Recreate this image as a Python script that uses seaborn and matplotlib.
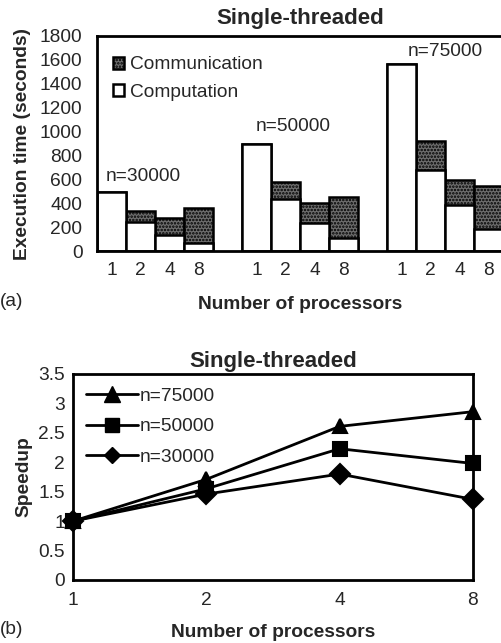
import numpy as np
import pandas as pd
import matplotlib
matplotlib.use("Agg")
import matplotlib.pyplot as plt
import matplotlib.patches as mpatches
from matplotlib.lines import Line2D
from matplotlib.ticker import FixedLocator, FuncFormatter
import seaborn as sns

# ---------------- data ----------------
problem_sizes = ["n=30000", "n=50000", "n=75000"]
processors = ["1", "2", "4", "8"]
computation = {
    "n=30000": [490, 245, 130, 65],
    "n=50000": [900, 435, 237, 106],
    "n=75000": [1562, 678, 385, 181],
}
communication = {
    "n=30000": [0, 90, 143, 292],
    "n=50000": [0, 145, 168, 346],
    "n=75000": [0, 243, 209, 366],
}
speedup = {
    "n=75000": [1.0, 1.71, 2.61, 2.86],
    "n=50000": [1.0, 1.55, 2.23, 1.98],
    "n=30000": [1.0, 1.46, 1.80, 1.37],
}
time_ticks = [0, 200, 400, 600, 800, 1000, 1200, 1400, 1600, 1800]
speed_ticks = [0, 0.5, 1, 1.5, 2, 2.5, 3, 3.5]

# ---------------- style ----------------
sns.set_style("white")
plt.rcParams["font.family"] = ["Liberation Sans", "DejaVu Sans"]
plt.rcParams["hatch.linewidth"] = 1.2
FS = 13.8
TFS = 16
COMM_FACE = "#6e6e6e"
COMM_HATCH = "....."

fig = plt.figure(figsize=(5.01, 6.43), dpi=100)
W, H = 501, 643

def axrect(l, t, r, b):
    return [l / W, (H - b) / H, (r - l) / W, (b - t) / H]

# ---------------- (a) stacked bars ----------------
ax1 = fig.add_axes(axrect(97, 36, 503, 251))
rows = []
order = []
for gi, n in enumerate(problem_sizes):
    for pi, p in enumerate(processors):
        key = f"{n}|{p}"
        order.append(key)
        rows.append({"key": key, "comp": computation[n][pi],
                     "total": computation[n][pi] + communication[n][pi]})
    if gi < len(problem_sizes) - 1:
        order.append(" " * (gi + 1))
df = pd.DataFrame(rows)

sns.barplot(data=df, x="key", y="total", order=order, color=COMM_FACE,
            edgecolor="black", linewidth=1.8, width=1.0, hatch=COMM_HATCH,
            errorbar=None, ax=ax1, saturation=1)
sns.barplot(data=df, x="key", y="comp", order=order, color="white",
            edgecolor="black", linewidth=1.8, width=1.0,
            errorbar=None, ax=ax1, saturation=1)

ax1.set_xlim(-0.5, len(order) - 0.5)
ax1.set_ylim(0, 1800)
ax1.set_yticks(time_ticks)
ax1.set_yticklabels([str(t) for t in time_ticks], fontsize=FS)
ax1.set_xticks(range(len(order)))
ax1.set_xticklabels([k.split("|")[1] if "|" in k else "" for k in order], fontsize=FS)
ax1.xaxis.set_minor_locator(FixedLocator(np.arange(-0.5, len(order), 1.0)))
ax1.tick_params(axis="x", which="major", length=0, pad=8)
ax1.tick_params(axis="x", which="minor", length=5, width=1.5, color="black", direction="out")
ax1.tick_params(axis="y", length=5, width=1.5, color="black", direction="out", pad=5.5)
for s in ["left", "top", "bottom", "right"]:
    ax1.spines[s].set_color("black")
    ax1.spines[s].set_linewidth(2)
ax1.set_xlabel("Number of processors", fontsize=FS, fontweight="bold", labelpad=12)
ax1.set_ylabel("Execution time (seconds)", fontsize=FS, fontweight="bold", labelpad=6)
ax1.set_title("Single-threaded", fontsize=TFS, fontweight="bold", pad=8.5)

label_pos = [(1.1, 622), (6.26, 1041), (11.5, 1668)]
for n, (lx, ly) in zip(problem_sizes, label_pos):
    ax1.text(lx, ly, n, ha="center", va="center", fontsize=FS)

h_comm = mpatches.Patch(facecolor=COMM_FACE, edgecolor="black", hatch=COMM_HATCH, linewidth=1.8)
h_comp = mpatches.Patch(facecolor="white", edgecolor="black", linewidth=1.8)
ax1.legend([h_comm, h_comp], ["Communication", "Computation"], loc="upper left",
           bbox_to_anchor=(0.039, 0.905), borderpad=0, borderaxespad=0,
           frameon=False, fontsize=FS,
           handlelength=0.6, handleheight=0.6, handletextpad=0.3, labelspacing=0.55)

fig.text(0 / W, 1 - 302 / H, "(a)", fontsize=FS, ha="left", va="center")

# ---------------- (b) speedup lines ----------------
ax2 = fig.add_axes(axrect(73, 374, 473, 580))
long = pd.DataFrame([{"procs": p, "speedup": speedup[n][i], "size": n}
                     for n in speedup for i, p in enumerate(processors)])
hue_order = list(speedup.keys())
sns.pointplot(data=long, x="procs", y="speedup", hue="size", order=processors,
              hue_order=hue_order, palette=["black"] * 3, markers=["^", "s", "D"],
              linestyles=["-", "-", "-"], errorbar=None, ax=ax2,
              markersize=10, linewidth=2, legend=False)
for ln in ax2.lines:
    ln.set_clip_on(False)
ax2.set_xlim(0, len(processors) - 1)
ax2.set_ylim(0, 3.5)
ax2.set_yticks(speed_ticks)
ax2.yaxis.set_major_formatter(FuncFormatter(lambda v, p: f"{v:g}"))
ax2.tick_params(axis="both", labelsize=FS, length=5, width=1.5, color="black", direction="out")
ax2.tick_params(axis="y", pad=1)
for s in ["left", "top", "bottom", "right"]:
    ax2.spines[s].set_color("black")
    ax2.spines[s].set_linewidth(2)
ax2.set_xlabel("Number of processors", fontsize=FS, fontweight="bold", labelpad=11)
ax2.set_ylabel("Speedup", fontsize=FS, fontweight="bold", labelpad=4)
ax2.set_title("Single-threaded", fontsize=TFS, fontweight="bold", pad=5)

mk = {"n=75000": ("^", 11), "n=50000": ("s", 10), "n=30000": ("D", 8)}
handles = [Line2D([], [], color="black", lw=2, marker=mk[n][0], markersize=mk[n][1]) for n in hue_order]
ax2.legend(handles, hue_order, loc="upper left", bbox_to_anchor=(0.0325, 0.935),
           borderpad=0, borderaxespad=0,
           frameon=False, fontsize=FS, handlelength=2.7, handletextpad=0.1, labelspacing=0.68)

fig.text(0 / W, 1 - 630 / H, "(b)", fontsize=FS, ha="left", va="center")

fig.savefig("out.png", dpi=100)
